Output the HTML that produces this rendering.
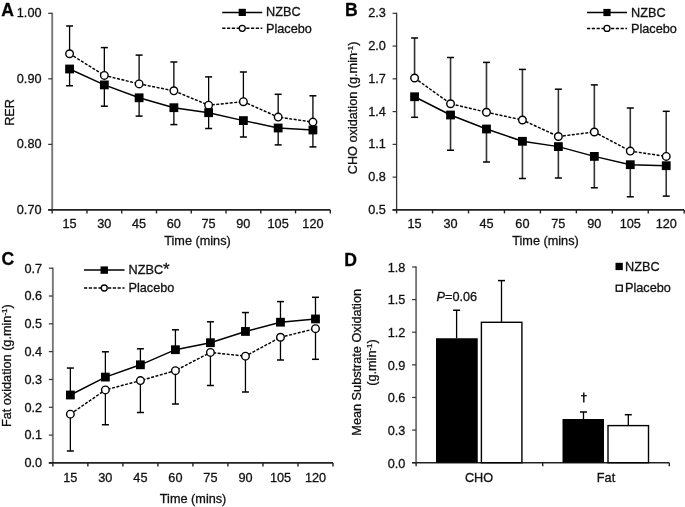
<!DOCTYPE html>
<html><head><meta charset="utf-8"><style>
html,body{margin:0;padding:0;background:#fff;}
svg{display:block;will-change:transform;}
text{font-family:"Liberation Sans",sans-serif;stroke:#111;stroke-width:0.3px;}
</style></head><body>
<svg width="685" height="507" viewBox="0 0 685 507">
<rect width="685" height="507" fill="#fff"/>
<text x="1.20" y="15.60" text-anchor="start" font-size="17.6" fill="#000" font-weight="bold">A</text>
<line x1="52.20" y1="12.70" x2="52.20" y2="209.90" stroke="#777" stroke-width="1.9" />
<line x1="48.20" y1="13.30" x2="52.20" y2="13.30" stroke="#333" stroke-width="1.2" />
<text x="41.50" y="17.20" text-anchor="end" font-size="12.7" fill="#111" >1.00</text>
<line x1="48.20" y1="78.83" x2="52.20" y2="78.83" stroke="#333" stroke-width="1.2" />
<text x="41.50" y="82.73" text-anchor="end" font-size="12.7" fill="#111" >0.90</text>
<line x1="48.20" y1="144.37" x2="52.20" y2="144.37" stroke="#333" stroke-width="1.2" />
<text x="41.50" y="148.27" text-anchor="end" font-size="12.7" fill="#111" >0.80</text>
<line x1="48.20" y1="209.90" x2="52.20" y2="209.90" stroke="#333" stroke-width="1.2" />
<text x="41.50" y="213.80" text-anchor="end" font-size="12.7" fill="#111" >0.70</text>
<line x1="48.20" y1="209.90" x2="330.30" y2="209.90" stroke="#222" stroke-width="1.6" />
<line x1="52.20" y1="209.90" x2="52.20" y2="213.40" stroke="#222" stroke-width="1.4" />
<line x1="86.96" y1="209.90" x2="86.96" y2="213.40" stroke="#222" stroke-width="1.4" />
<line x1="121.73" y1="209.90" x2="121.73" y2="213.40" stroke="#222" stroke-width="1.4" />
<line x1="156.49" y1="209.90" x2="156.49" y2="213.40" stroke="#222" stroke-width="1.4" />
<line x1="191.25" y1="209.90" x2="191.25" y2="213.40" stroke="#222" stroke-width="1.4" />
<line x1="226.01" y1="209.90" x2="226.01" y2="213.40" stroke="#222" stroke-width="1.4" />
<line x1="260.78" y1="209.90" x2="260.78" y2="213.40" stroke="#222" stroke-width="1.4" />
<line x1="295.54" y1="209.90" x2="295.54" y2="213.40" stroke="#222" stroke-width="1.4" />
<line x1="330.30" y1="209.90" x2="330.30" y2="213.40" stroke="#222" stroke-width="1.4" />
<text x="69.58" y="228.20" text-anchor="middle" font-size="12.7" fill="#111" >15</text>
<text x="104.34" y="228.20" text-anchor="middle" font-size="12.7" fill="#111" >30</text>
<text x="139.11" y="228.20" text-anchor="middle" font-size="12.7" fill="#111" >45</text>
<text x="173.87" y="228.20" text-anchor="middle" font-size="12.7" fill="#111" >60</text>
<text x="208.63" y="228.20" text-anchor="middle" font-size="12.7" fill="#111" >75</text>
<text x="243.39" y="228.20" text-anchor="middle" font-size="12.7" fill="#111" >90</text>
<text x="278.16" y="228.20" text-anchor="middle" font-size="12.7" fill="#111" >105</text>
<text x="312.92" y="228.20" text-anchor="middle" font-size="12.7" fill="#111" >120</text>
<line x1="69.58" y1="69.00" x2="69.58" y2="85.75" stroke="#000" stroke-width="1.3" />
<line x1="66.08" y1="85.75" x2="73.08" y2="85.75" stroke="#000" stroke-width="1.5" />
<line x1="104.34" y1="84.90" x2="104.34" y2="106.20" stroke="#000" stroke-width="1.3" />
<line x1="100.84" y1="106.20" x2="107.84" y2="106.20" stroke="#000" stroke-width="1.5" />
<line x1="139.11" y1="97.80" x2="139.11" y2="116.10" stroke="#000" stroke-width="1.3" />
<line x1="135.61" y1="116.10" x2="142.61" y2="116.10" stroke="#000" stroke-width="1.5" />
<line x1="173.87" y1="107.70" x2="173.87" y2="124.60" stroke="#000" stroke-width="1.3" />
<line x1="170.37" y1="124.60" x2="177.37" y2="124.60" stroke="#000" stroke-width="1.5" />
<line x1="208.63" y1="112.70" x2="208.63" y2="128.50" stroke="#000" stroke-width="1.3" />
<line x1="205.13" y1="128.50" x2="212.13" y2="128.50" stroke="#000" stroke-width="1.5" />
<line x1="243.39" y1="120.60" x2="243.39" y2="137.00" stroke="#000" stroke-width="1.3" />
<line x1="239.89" y1="137.00" x2="246.89" y2="137.00" stroke="#000" stroke-width="1.5" />
<line x1="278.16" y1="128.00" x2="278.16" y2="144.90" stroke="#000" stroke-width="1.3" />
<line x1="274.66" y1="144.90" x2="281.66" y2="144.90" stroke="#000" stroke-width="1.5" />
<line x1="312.92" y1="130.00" x2="312.92" y2="146.90" stroke="#000" stroke-width="1.3" />
<line x1="309.42" y1="146.90" x2="316.42" y2="146.90" stroke="#000" stroke-width="1.5" />
<line x1="69.58" y1="53.75" x2="69.58" y2="26.00" stroke="#000" stroke-width="1.3" />
<line x1="66.08" y1="26.00" x2="73.08" y2="26.00" stroke="#000" stroke-width="1.5" />
<line x1="104.34" y1="75.40" x2="104.34" y2="47.60" stroke="#000" stroke-width="1.3" />
<line x1="100.84" y1="47.60" x2="107.84" y2="47.60" stroke="#000" stroke-width="1.5" />
<line x1="139.11" y1="83.90" x2="139.11" y2="55.10" stroke="#000" stroke-width="1.3" />
<line x1="135.61" y1="55.10" x2="142.61" y2="55.10" stroke="#000" stroke-width="1.5" />
<line x1="173.87" y1="90.80" x2="173.87" y2="62.00" stroke="#000" stroke-width="1.3" />
<line x1="170.37" y1="62.00" x2="177.37" y2="62.00" stroke="#000" stroke-width="1.5" />
<line x1="208.63" y1="105.20" x2="208.63" y2="76.90" stroke="#000" stroke-width="1.3" />
<line x1="205.13" y1="76.90" x2="212.13" y2="76.90" stroke="#000" stroke-width="1.5" />
<line x1="243.39" y1="101.70" x2="243.39" y2="72.00" stroke="#000" stroke-width="1.3" />
<line x1="239.89" y1="72.00" x2="246.89" y2="72.00" stroke="#000" stroke-width="1.5" />
<line x1="278.16" y1="117.10" x2="278.16" y2="94.30" stroke="#000" stroke-width="1.3" />
<line x1="274.66" y1="94.30" x2="281.66" y2="94.30" stroke="#000" stroke-width="1.5" />
<line x1="312.92" y1="122.10" x2="312.92" y2="95.80" stroke="#000" stroke-width="1.3" />
<line x1="309.42" y1="95.80" x2="316.42" y2="95.80" stroke="#000" stroke-width="1.5" />
<polyline points="69.58,53.75 104.34,75.40 139.11,83.90 173.87,90.80 208.63,105.20 243.39,101.70 278.16,117.10 312.92,122.10" fill="none" stroke="#000" stroke-width="1.45" stroke-dasharray="3,1.5"/>
<polyline points="69.58,69.00 104.34,84.90 139.11,97.80 173.87,107.70 208.63,112.70 243.39,120.60 278.16,128.00 312.92,130.00" fill="none" stroke="#000" stroke-width="1.45" />
<circle cx="69.58" cy="53.75" r="3.8" fill="#fff" stroke="#000" stroke-width="1.4"/>
<circle cx="104.34" cy="75.40" r="3.8" fill="#fff" stroke="#000" stroke-width="1.4"/>
<circle cx="139.11" cy="83.90" r="3.8" fill="#fff" stroke="#000" stroke-width="1.4"/>
<circle cx="173.87" cy="90.80" r="3.8" fill="#fff" stroke="#000" stroke-width="1.4"/>
<circle cx="208.63" cy="105.20" r="3.8" fill="#fff" stroke="#000" stroke-width="1.4"/>
<circle cx="243.39" cy="101.70" r="3.8" fill="#fff" stroke="#000" stroke-width="1.4"/>
<circle cx="278.16" cy="117.10" r="3.8" fill="#fff" stroke="#000" stroke-width="1.4"/>
<circle cx="312.92" cy="122.10" r="3.8" fill="#fff" stroke="#000" stroke-width="1.4"/>
<rect x="65.18" y="64.60" width="8.8" height="8.8" fill="#000"/>
<rect x="99.94" y="80.50" width="8.8" height="8.8" fill="#000"/>
<rect x="134.71" y="93.40" width="8.8" height="8.8" fill="#000"/>
<rect x="169.47" y="103.30" width="8.8" height="8.8" fill="#000"/>
<rect x="204.23" y="108.30" width="8.8" height="8.8" fill="#000"/>
<rect x="238.99" y="116.20" width="8.8" height="8.8" fill="#000"/>
<rect x="273.76" y="123.60" width="8.8" height="8.8" fill="#000"/>
<rect x="308.52" y="125.60" width="8.8" height="8.8" fill="#000"/>
<text x="197.50" y="244.60" text-anchor="middle" font-size="12.7" fill="#111" >Time (mins)</text>
<text x="0.00" y="0.00" text-anchor="middle" font-size="12.7" fill="#111" transform="translate(14.0,112.45) rotate(-90)">RER</text>
<line x1="222.2" y1="12.4" x2="262.3" y2="12.4" stroke="#000" stroke-width="1.5" />
<rect x="238.65" y="8.8" width="7.2" height="7.2" fill="#000"/>
<text x="266.00" y="16.10" text-anchor="start" font-size="12.7" fill="#111" >NZBC</text>
<line x1="222.2" y1="28.3" x2="262.3" y2="28.3" stroke="#000" stroke-width="1.5" stroke-dasharray="3.2,1.6"/>
<circle cx="242.25" cy="28.3" r="3.0" fill="#fff" stroke="#000" stroke-width="1.3"/>
<text x="266.00" y="32.80" text-anchor="start" font-size="12.7" fill="#111" >Placebo</text>
<text x="345.00" y="15.80" text-anchor="start" font-size="17.6" fill="#000" font-weight="bold">B</text>
<line x1="396.60" y1="12.70" x2="396.60" y2="209.90" stroke="#333" stroke-width="1.3" />
<line x1="392.60" y1="13.30" x2="396.60" y2="13.30" stroke="#333" stroke-width="1.2" />
<text x="385.90" y="17.20" text-anchor="end" font-size="12.7" fill="#111" >2.3</text>
<line x1="392.60" y1="46.07" x2="396.60" y2="46.07" stroke="#333" stroke-width="1.2" />
<text x="385.90" y="49.97" text-anchor="end" font-size="12.7" fill="#111" >2.0</text>
<line x1="392.60" y1="78.83" x2="396.60" y2="78.83" stroke="#333" stroke-width="1.2" />
<text x="385.90" y="82.73" text-anchor="end" font-size="12.7" fill="#111" >1.7</text>
<line x1="392.60" y1="111.60" x2="396.60" y2="111.60" stroke="#333" stroke-width="1.2" />
<text x="385.90" y="115.50" text-anchor="end" font-size="12.7" fill="#111" >1.4</text>
<line x1="392.60" y1="144.37" x2="396.60" y2="144.37" stroke="#333" stroke-width="1.2" />
<text x="385.90" y="148.27" text-anchor="end" font-size="12.7" fill="#111" >1.1</text>
<line x1="392.60" y1="177.13" x2="396.60" y2="177.13" stroke="#333" stroke-width="1.2" />
<text x="385.90" y="181.03" text-anchor="end" font-size="12.7" fill="#111" >0.8</text>
<line x1="392.60" y1="209.90" x2="396.60" y2="209.90" stroke="#333" stroke-width="1.2" />
<text x="385.90" y="213.80" text-anchor="end" font-size="12.7" fill="#111" >0.5</text>
<line x1="392.60" y1="209.90" x2="684.20" y2="209.90" stroke="#222" stroke-width="1.6" />
<line x1="396.60" y1="209.90" x2="396.60" y2="213.40" stroke="#222" stroke-width="1.4" />
<line x1="432.55" y1="209.90" x2="432.55" y2="213.40" stroke="#222" stroke-width="1.4" />
<line x1="468.50" y1="209.90" x2="468.50" y2="213.40" stroke="#222" stroke-width="1.4" />
<line x1="504.45" y1="209.90" x2="504.45" y2="213.40" stroke="#222" stroke-width="1.4" />
<line x1="540.40" y1="209.90" x2="540.40" y2="213.40" stroke="#222" stroke-width="1.4" />
<line x1="576.35" y1="209.90" x2="576.35" y2="213.40" stroke="#222" stroke-width="1.4" />
<line x1="612.30" y1="209.90" x2="612.30" y2="213.40" stroke="#222" stroke-width="1.4" />
<line x1="648.25" y1="209.90" x2="648.25" y2="213.40" stroke="#222" stroke-width="1.4" />
<line x1="684.20" y1="209.90" x2="684.20" y2="213.40" stroke="#222" stroke-width="1.4" />
<text x="414.58" y="228.20" text-anchor="middle" font-size="12.7" fill="#111" >15</text>
<text x="450.53" y="228.20" text-anchor="middle" font-size="12.7" fill="#111" >30</text>
<text x="486.48" y="228.20" text-anchor="middle" font-size="12.7" fill="#111" >45</text>
<text x="522.43" y="228.20" text-anchor="middle" font-size="12.7" fill="#111" >60</text>
<text x="558.38" y="228.20" text-anchor="middle" font-size="12.7" fill="#111" >75</text>
<text x="594.33" y="228.20" text-anchor="middle" font-size="12.7" fill="#111" >90</text>
<text x="630.28" y="228.20" text-anchor="middle" font-size="12.7" fill="#111" >105</text>
<text x="666.23" y="228.20" text-anchor="middle" font-size="12.7" fill="#111" >120</text>
<line x1="414.58" y1="96.75" x2="414.58" y2="117.30" stroke="#333" stroke-width="1.6" />
<line x1="411.08" y1="117.30" x2="418.08" y2="117.30" stroke="#000" stroke-width="1.5" />
<line x1="450.53" y1="115.00" x2="450.53" y2="150.25" stroke="#333" stroke-width="1.6" />
<line x1="447.03" y1="150.25" x2="454.03" y2="150.25" stroke="#000" stroke-width="1.5" />
<line x1="486.48" y1="129.00" x2="486.48" y2="162.00" stroke="#333" stroke-width="1.6" />
<line x1="482.98" y1="162.00" x2="489.98" y2="162.00" stroke="#000" stroke-width="1.5" />
<line x1="522.43" y1="141.30" x2="522.43" y2="178.50" stroke="#333" stroke-width="1.6" />
<line x1="518.93" y1="178.50" x2="525.93" y2="178.50" stroke="#000" stroke-width="1.5" />
<line x1="558.38" y1="146.60" x2="558.38" y2="178.00" stroke="#333" stroke-width="1.6" />
<line x1="554.88" y1="178.00" x2="561.88" y2="178.00" stroke="#000" stroke-width="1.5" />
<line x1="594.33" y1="156.40" x2="594.33" y2="187.80" stroke="#333" stroke-width="1.6" />
<line x1="590.83" y1="187.80" x2="597.83" y2="187.80" stroke="#000" stroke-width="1.5" />
<line x1="630.28" y1="164.70" x2="630.28" y2="196.80" stroke="#333" stroke-width="1.6" />
<line x1="626.78" y1="196.80" x2="633.78" y2="196.80" stroke="#000" stroke-width="1.5" />
<line x1="666.23" y1="165.70" x2="666.23" y2="196.10" stroke="#333" stroke-width="1.6" />
<line x1="662.73" y1="196.10" x2="669.73" y2="196.10" stroke="#000" stroke-width="1.5" />
<line x1="414.58" y1="78.00" x2="414.58" y2="38.00" stroke="#333" stroke-width="1.6" />
<line x1="411.08" y1="38.00" x2="418.08" y2="38.00" stroke="#000" stroke-width="1.5" />
<line x1="450.53" y1="103.75" x2="450.53" y2="57.50" stroke="#333" stroke-width="1.6" />
<line x1="447.03" y1="57.50" x2="454.03" y2="57.50" stroke="#000" stroke-width="1.5" />
<line x1="486.48" y1="112.25" x2="486.48" y2="62.40" stroke="#333" stroke-width="1.6" />
<line x1="482.98" y1="62.40" x2="489.98" y2="62.40" stroke="#000" stroke-width="1.5" />
<line x1="522.43" y1="120.00" x2="522.43" y2="69.40" stroke="#333" stroke-width="1.6" />
<line x1="518.93" y1="69.40" x2="525.93" y2="69.40" stroke="#000" stroke-width="1.5" />
<line x1="558.38" y1="136.50" x2="558.38" y2="89.20" stroke="#333" stroke-width="1.6" />
<line x1="554.88" y1="89.20" x2="561.88" y2="89.20" stroke="#000" stroke-width="1.5" />
<line x1="594.33" y1="132.00" x2="594.33" y2="84.90" stroke="#333" stroke-width="1.6" />
<line x1="590.83" y1="84.90" x2="597.83" y2="84.90" stroke="#000" stroke-width="1.5" />
<line x1="630.28" y1="151.10" x2="630.28" y2="108.00" stroke="#333" stroke-width="1.6" />
<line x1="626.78" y1="108.00" x2="633.78" y2="108.00" stroke="#000" stroke-width="1.5" />
<line x1="666.23" y1="156.40" x2="666.23" y2="111.30" stroke="#333" stroke-width="1.6" />
<line x1="662.73" y1="111.30" x2="669.73" y2="111.30" stroke="#000" stroke-width="1.5" />
<polyline points="414.58,78.00 450.53,103.75 486.48,112.25 522.43,120.00 558.38,136.50 594.33,132.00 630.28,151.10 666.23,156.40" fill="none" stroke="#000" stroke-width="1.45" stroke-dasharray="3,1.5"/>
<polyline points="414.58,96.75 450.53,115.00 486.48,129.00 522.43,141.30 558.38,146.60 594.33,156.40 630.28,164.70 666.23,165.70" fill="none" stroke="#000" stroke-width="1.45" />
<circle cx="414.58" cy="78.00" r="3.8" fill="#fff" stroke="#000" stroke-width="1.4"/>
<circle cx="450.53" cy="103.75" r="3.8" fill="#fff" stroke="#000" stroke-width="1.4"/>
<circle cx="486.48" cy="112.25" r="3.8" fill="#fff" stroke="#000" stroke-width="1.4"/>
<circle cx="522.43" cy="120.00" r="3.8" fill="#fff" stroke="#000" stroke-width="1.4"/>
<circle cx="558.38" cy="136.50" r="3.8" fill="#fff" stroke="#000" stroke-width="1.4"/>
<circle cx="594.33" cy="132.00" r="3.8" fill="#fff" stroke="#000" stroke-width="1.4"/>
<circle cx="630.28" cy="151.10" r="3.8" fill="#fff" stroke="#000" stroke-width="1.4"/>
<circle cx="666.23" cy="156.40" r="3.8" fill="#fff" stroke="#000" stroke-width="1.4"/>
<rect x="410.18" y="92.35" width="8.8" height="8.8" fill="#000"/>
<rect x="446.13" y="110.60" width="8.8" height="8.8" fill="#000"/>
<rect x="482.08" y="124.60" width="8.8" height="8.8" fill="#000"/>
<rect x="518.03" y="136.90" width="8.8" height="8.8" fill="#000"/>
<rect x="553.98" y="142.20" width="8.8" height="8.8" fill="#000"/>
<rect x="589.93" y="152.00" width="8.8" height="8.8" fill="#000"/>
<rect x="625.88" y="160.30" width="8.8" height="8.8" fill="#000"/>
<rect x="661.83" y="161.30" width="8.8" height="8.8" fill="#000"/>
<text x="545.50" y="244.60" text-anchor="middle" font-size="12.7" fill="#111" >Time (mins)</text>
<text x="0.00" y="0.00" text-anchor="middle" font-size="12.7" fill="#111" transform="translate(357.0,107.9) rotate(-90)">CHO oxidation (g.min<tspan font-size="8" dy="-4">-1</tspan><tspan dy="4">)</tspan></text>
<line x1="587.0" y1="12.5" x2="627.0" y2="12.5" stroke="#000" stroke-width="1.5" />
<rect x="603.4" y="8.9" width="7.2" height="7.2" fill="#000"/>
<text x="631.00" y="16.50" text-anchor="start" font-size="12.7" fill="#111" >NZBC</text>
<line x1="587.0" y1="28.4" x2="627.0" y2="28.4" stroke="#000" stroke-width="1.5" stroke-dasharray="3.2,1.6"/>
<circle cx="607.0" cy="28.4" r="3.0" fill="#fff" stroke="#000" stroke-width="1.3"/>
<text x="631.00" y="32.60" text-anchor="start" font-size="12.7" fill="#111" >Placebo</text>
<text x="1.60" y="264.90" text-anchor="start" font-size="17.6" fill="#000" font-weight="bold">C</text>
<line x1="52.85" y1="267.60" x2="52.85" y2="462.90" stroke="#777" stroke-width="1.9" />
<line x1="48.85" y1="268.20" x2="52.85" y2="268.20" stroke="#333" stroke-width="1.2" />
<text x="42.15" y="272.50" text-anchor="end" font-size="12.7" fill="#111" >0.7</text>
<line x1="48.85" y1="296.01" x2="52.85" y2="296.01" stroke="#333" stroke-width="1.2" />
<text x="42.15" y="300.31" text-anchor="end" font-size="12.7" fill="#111" >0.6</text>
<line x1="48.85" y1="323.83" x2="52.85" y2="323.83" stroke="#333" stroke-width="1.2" />
<text x="42.15" y="328.13" text-anchor="end" font-size="12.7" fill="#111" >0.5</text>
<line x1="48.85" y1="351.64" x2="52.85" y2="351.64" stroke="#333" stroke-width="1.2" />
<text x="42.15" y="355.94" text-anchor="end" font-size="12.7" fill="#111" >0.4</text>
<line x1="48.85" y1="379.46" x2="52.85" y2="379.46" stroke="#333" stroke-width="1.2" />
<text x="42.15" y="383.76" text-anchor="end" font-size="12.7" fill="#111" >0.3</text>
<line x1="48.85" y1="407.27" x2="52.85" y2="407.27" stroke="#333" stroke-width="1.2" />
<text x="42.15" y="411.57" text-anchor="end" font-size="12.7" fill="#111" >0.2</text>
<line x1="48.85" y1="435.09" x2="52.85" y2="435.09" stroke="#333" stroke-width="1.2" />
<text x="42.15" y="439.39" text-anchor="end" font-size="12.7" fill="#111" >0.1</text>
<line x1="48.85" y1="462.90" x2="52.85" y2="462.90" stroke="#333" stroke-width="1.2" />
<text x="42.15" y="467.20" text-anchor="end" font-size="12.7" fill="#111" >0.0</text>
<line x1="48.85" y1="462.90" x2="333.00" y2="462.90" stroke="#222" stroke-width="1.6" />
<line x1="52.85" y1="462.90" x2="52.85" y2="466.40" stroke="#222" stroke-width="1.4" />
<line x1="87.87" y1="462.90" x2="87.87" y2="466.40" stroke="#222" stroke-width="1.4" />
<line x1="122.89" y1="462.90" x2="122.89" y2="466.40" stroke="#222" stroke-width="1.4" />
<line x1="157.91" y1="462.90" x2="157.91" y2="466.40" stroke="#222" stroke-width="1.4" />
<line x1="192.92" y1="462.90" x2="192.92" y2="466.40" stroke="#222" stroke-width="1.4" />
<line x1="227.94" y1="462.90" x2="227.94" y2="466.40" stroke="#222" stroke-width="1.4" />
<line x1="262.96" y1="462.90" x2="262.96" y2="466.40" stroke="#222" stroke-width="1.4" />
<line x1="297.98" y1="462.90" x2="297.98" y2="466.40" stroke="#222" stroke-width="1.4" />
<line x1="333.00" y1="462.90" x2="333.00" y2="466.40" stroke="#222" stroke-width="1.4" />
<text x="70.36" y="482.00" text-anchor="middle" font-size="12.7" fill="#111" >15</text>
<text x="105.38" y="482.00" text-anchor="middle" font-size="12.7" fill="#111" >30</text>
<text x="140.40" y="482.00" text-anchor="middle" font-size="12.7" fill="#111" >45</text>
<text x="175.42" y="482.00" text-anchor="middle" font-size="12.7" fill="#111" >60</text>
<text x="210.43" y="482.00" text-anchor="middle" font-size="12.7" fill="#111" >75</text>
<text x="245.45" y="482.00" text-anchor="middle" font-size="12.7" fill="#111" >90</text>
<text x="280.47" y="482.00" text-anchor="middle" font-size="12.7" fill="#111" >105</text>
<text x="315.49" y="482.00" text-anchor="middle" font-size="12.7" fill="#111" >120</text>
<line x1="70.36" y1="395.00" x2="70.36" y2="368.05" stroke="#000" stroke-width="1.3" />
<line x1="66.86" y1="368.05" x2="73.86" y2="368.05" stroke="#000" stroke-width="1.5" />
<line x1="105.38" y1="377.10" x2="105.38" y2="351.80" stroke="#000" stroke-width="1.3" />
<line x1="101.88" y1="351.80" x2="108.88" y2="351.80" stroke="#000" stroke-width="1.5" />
<line x1="140.40" y1="364.80" x2="140.40" y2="348.80" stroke="#000" stroke-width="1.3" />
<line x1="136.90" y1="348.80" x2="143.90" y2="348.80" stroke="#000" stroke-width="1.5" />
<line x1="175.42" y1="349.70" x2="175.42" y2="329.80" stroke="#000" stroke-width="1.3" />
<line x1="171.92" y1="329.80" x2="178.92" y2="329.80" stroke="#000" stroke-width="1.5" />
<line x1="210.43" y1="342.70" x2="210.43" y2="321.80" stroke="#000" stroke-width="1.3" />
<line x1="206.93" y1="321.80" x2="213.93" y2="321.80" stroke="#000" stroke-width="1.5" />
<line x1="245.45" y1="331.45" x2="245.45" y2="312.55" stroke="#000" stroke-width="1.3" />
<line x1="241.95" y1="312.55" x2="248.95" y2="312.55" stroke="#000" stroke-width="1.5" />
<line x1="280.47" y1="322.20" x2="280.47" y2="301.60" stroke="#000" stroke-width="1.3" />
<line x1="276.97" y1="301.60" x2="283.97" y2="301.60" stroke="#000" stroke-width="1.5" />
<line x1="315.49" y1="318.95" x2="315.49" y2="297.30" stroke="#000" stroke-width="1.3" />
<line x1="311.99" y1="297.30" x2="318.99" y2="297.30" stroke="#000" stroke-width="1.5" />
<line x1="70.36" y1="414.15" x2="70.36" y2="451.00" stroke="#000" stroke-width="1.3" />
<line x1="66.86" y1="451.00" x2="73.86" y2="451.00" stroke="#000" stroke-width="1.5" />
<line x1="105.38" y1="389.90" x2="105.38" y2="424.75" stroke="#000" stroke-width="1.3" />
<line x1="101.88" y1="424.75" x2="108.88" y2="424.75" stroke="#000" stroke-width="1.5" />
<line x1="140.40" y1="380.60" x2="140.40" y2="412.50" stroke="#000" stroke-width="1.3" />
<line x1="136.90" y1="412.50" x2="143.90" y2="412.50" stroke="#000" stroke-width="1.5" />
<line x1="175.42" y1="370.65" x2="175.42" y2="404.00" stroke="#000" stroke-width="1.3" />
<line x1="171.92" y1="404.00" x2="178.92" y2="404.00" stroke="#000" stroke-width="1.5" />
<line x1="210.43" y1="352.40" x2="210.43" y2="385.50" stroke="#000" stroke-width="1.3" />
<line x1="206.93" y1="385.50" x2="213.93" y2="385.50" stroke="#000" stroke-width="1.5" />
<line x1="245.45" y1="356.15" x2="245.45" y2="392.00" stroke="#000" stroke-width="1.3" />
<line x1="241.95" y1="392.00" x2="248.95" y2="392.00" stroke="#000" stroke-width="1.5" />
<line x1="280.47" y1="337.25" x2="280.47" y2="360.00" stroke="#000" stroke-width="1.3" />
<line x1="276.97" y1="360.00" x2="283.97" y2="360.00" stroke="#000" stroke-width="1.5" />
<line x1="315.49" y1="328.65" x2="315.49" y2="359.30" stroke="#000" stroke-width="1.3" />
<line x1="311.99" y1="359.30" x2="318.99" y2="359.30" stroke="#000" stroke-width="1.5" />
<polyline points="70.36,414.15 105.38,389.90 140.40,380.60 175.42,370.65 210.43,352.40 245.45,356.15 280.47,337.25 315.49,328.65" fill="none" stroke="#000" stroke-width="1.45" stroke-dasharray="3,1.5"/>
<polyline points="70.36,395.00 105.38,377.10 140.40,364.80 175.42,349.70 210.43,342.70 245.45,331.45 280.47,322.20 315.49,318.95" fill="none" stroke="#000" stroke-width="1.45" />
<circle cx="70.36" cy="414.15" r="3.8" fill="#fff" stroke="#000" stroke-width="1.4"/>
<circle cx="105.38" cy="389.90" r="3.8" fill="#fff" stroke="#000" stroke-width="1.4"/>
<circle cx="140.40" cy="380.60" r="3.8" fill="#fff" stroke="#000" stroke-width="1.4"/>
<circle cx="175.42" cy="370.65" r="3.8" fill="#fff" stroke="#000" stroke-width="1.4"/>
<circle cx="210.43" cy="352.40" r="3.8" fill="#fff" stroke="#000" stroke-width="1.4"/>
<circle cx="245.45" cy="356.15" r="3.8" fill="#fff" stroke="#000" stroke-width="1.4"/>
<circle cx="280.47" cy="337.25" r="3.8" fill="#fff" stroke="#000" stroke-width="1.4"/>
<circle cx="315.49" cy="328.65" r="3.8" fill="#fff" stroke="#000" stroke-width="1.4"/>
<rect x="65.96" y="390.60" width="8.8" height="8.8" fill="#000"/>
<rect x="100.98" y="372.70" width="8.8" height="8.8" fill="#000"/>
<rect x="136.00" y="360.40" width="8.8" height="8.8" fill="#000"/>
<rect x="171.02" y="345.30" width="8.8" height="8.8" fill="#000"/>
<rect x="206.03" y="338.30" width="8.8" height="8.8" fill="#000"/>
<rect x="241.05" y="327.05" width="8.8" height="8.8" fill="#000"/>
<rect x="276.07" y="317.80" width="8.8" height="8.8" fill="#000"/>
<rect x="311.09" y="314.55" width="8.8" height="8.8" fill="#000"/>
<text x="193.10" y="503.00" text-anchor="middle" font-size="12.7" fill="#111" >Time (mins)</text>
<text x="0.00" y="0.00" text-anchor="middle" font-size="12.7" fill="#111" transform="translate(10.8,365.65) rotate(-90)">Fat oxidation (g.min<tspan font-size="8" dy="-4">-1</tspan><tspan dy="4">)</tspan></text>
<line x1="84" y1="270.1" x2="124.5" y2="270.1" stroke="#000" stroke-width="1.5" />
<rect x="100.55" y="266.40000000000003" width="7.4" height="7.4" fill="#000"/>
<text x="128.50" y="273.80" text-anchor="start" font-size="12.7" fill="#111" >NZBC<tspan font-size="17" dy="1.2">*</tspan></text>
<line x1="84" y1="288" x2="124.5" y2="288" stroke="#000" stroke-width="1.5" stroke-dasharray="3.2,1.6"/>
<circle cx="104.25" cy="288" r="3.0" fill="#fff" stroke="#000" stroke-width="1.3"/>
<text x="128.50" y="291.70" text-anchor="start" font-size="12.7" fill="#111" >Placebo</text>
<text x="344.30" y="265.80" text-anchor="start" font-size="17.6" fill="#000" font-weight="bold">D</text>
<line x1="416.10" y1="266.40" x2="416.10" y2="462.70" stroke="#777" stroke-width="1.9" />
<line x1="412.10" y1="267.00" x2="416.10" y2="267.00" stroke="#333" stroke-width="1.2" />
<text x="405.40" y="271.80" text-anchor="end" font-size="12.7" fill="#111" >1.8</text>
<line x1="412.10" y1="299.62" x2="416.10" y2="299.62" stroke="#333" stroke-width="1.2" />
<text x="405.40" y="304.42" text-anchor="end" font-size="12.7" fill="#111" >1.5</text>
<line x1="412.10" y1="332.23" x2="416.10" y2="332.23" stroke="#333" stroke-width="1.2" />
<text x="405.40" y="337.03" text-anchor="end" font-size="12.7" fill="#111" >1.2</text>
<line x1="412.10" y1="364.85" x2="416.10" y2="364.85" stroke="#333" stroke-width="1.2" />
<text x="405.40" y="369.65" text-anchor="end" font-size="12.7" fill="#111" >0.9</text>
<line x1="412.10" y1="397.47" x2="416.10" y2="397.47" stroke="#333" stroke-width="1.2" />
<text x="405.40" y="402.27" text-anchor="end" font-size="12.7" fill="#111" >0.6</text>
<line x1="412.10" y1="430.08" x2="416.10" y2="430.08" stroke="#333" stroke-width="1.2" />
<text x="405.40" y="434.88" text-anchor="end" font-size="12.7" fill="#111" >0.3</text>
<line x1="412.10" y1="462.70" x2="416.10" y2="462.70" stroke="#333" stroke-width="1.2" />
<text x="405.40" y="467.50" text-anchor="end" font-size="12.7" fill="#111" >0.0</text>
<line x1="412.10" y1="462.70" x2="669.30" y2="462.70" stroke="#222" stroke-width="1.6" />
<line x1="416.10" y1="462.70" x2="416.10" y2="466.20" stroke="#222" stroke-width="1.4" />
<line x1="542.70" y1="462.70" x2="542.70" y2="466.20" stroke="#222" stroke-width="1.4" />
<line x1="669.30" y1="462.70" x2="669.30" y2="466.20" stroke="#222" stroke-width="1.4" />
<rect x="436" y="338.25" width="41.75" height="124.45" fill="#000"/>
<rect x="481.4" y="322.3" width="40.5" height="140.40" fill="#fff" stroke="#000" stroke-width="1.4"/>
<rect x="562.5" y="419" width="41.5" height="43.70" fill="#000"/>
<rect x="608" y="425.6" width="40.5" height="37.10" fill="#fff" stroke="#000" stroke-width="1.4"/>
<line x1="456.60" y1="338.25" x2="456.60" y2="310.25" stroke="#000" stroke-width="1.3" />
<line x1="453.10" y1="310.25" x2="460.10" y2="310.25" stroke="#000" stroke-width="1.5" />
<line x1="501.50" y1="322.30" x2="501.50" y2="280.60" stroke="#000" stroke-width="1.3" />
<line x1="498.00" y1="280.60" x2="505.00" y2="280.60" stroke="#000" stroke-width="1.5" />
<line x1="583.50" y1="419.00" x2="583.50" y2="412.00" stroke="#000" stroke-width="1.3" />
<line x1="580.00" y1="412.00" x2="587.00" y2="412.00" stroke="#000" stroke-width="1.5" />
<line x1="628.30" y1="425.20" x2="628.30" y2="414.70" stroke="#000" stroke-width="1.3" />
<line x1="624.80" y1="414.70" x2="631.80" y2="414.70" stroke="#000" stroke-width="1.5" />
<text x="479.00" y="482.00" text-anchor="middle" font-size="12.7" fill="#111" >CHO</text>
<text x="606.00" y="482.00" text-anchor="middle" font-size="12.7" fill="#111" >Fat</text>
<text x="436.50" y="301.00" text-anchor="start" font-size="12.7" fill="#111" ><tspan font-style="italic">P</tspan>=0.06</text>
<line x1="583.80" y1="392.60" x2="583.80" y2="402.60" stroke="#111" stroke-width="1.5" />
<line x1="581.00" y1="395.70" x2="586.80" y2="395.70" stroke="#111" stroke-width="1.3" />
<rect x="615.5" y="262.8" width="7.3" height="7.3" fill="#000"/>
<rect x="616.2" y="285.2" width="6" height="6" fill="#fff" stroke="#000" stroke-width="1.3"/>
<text x="625.00" y="271.00" text-anchor="start" font-size="12.7" fill="#111" >NZBC</text>
<text x="625.00" y="292.40" text-anchor="start" font-size="12.7" fill="#111" >Placebo</text>
<text x="0.00" y="0.00" text-anchor="middle" font-size="12.7" fill="#111" transform="translate(361.2,362.3) rotate(-90)">Mean Substrate Oxidation</text>
<text x="0.00" y="0.00" text-anchor="middle" font-size="12.7" fill="#111" transform="translate(375.8,362.5) rotate(-90)">(g.min<tspan font-size="8" dy="-4">-1</tspan><tspan dy="4">)</tspan></text>
</svg>
</body></html>
